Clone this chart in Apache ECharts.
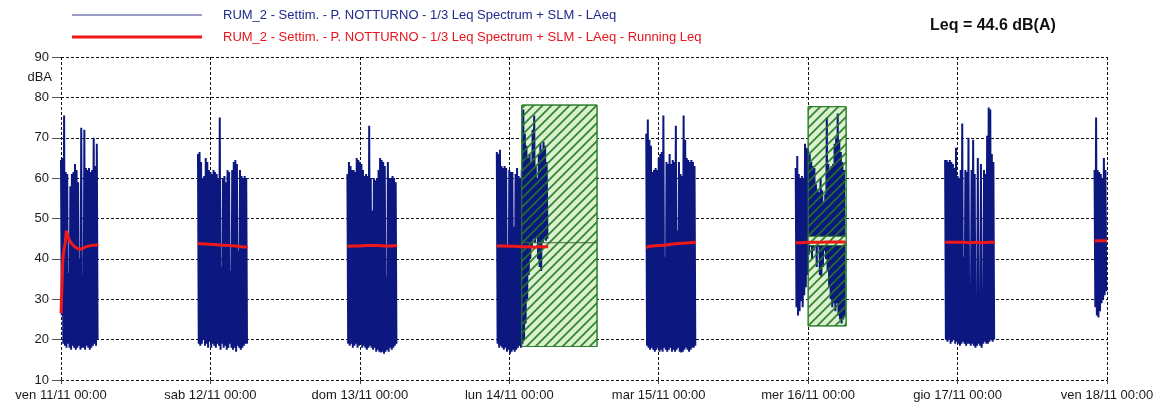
<!DOCTYPE html>
<html>
<head>
<meta charset="utf-8">
<script src="https://cdn.jsdelivr.net/npm/echarts@6/dist/echarts.min.js"></script>
<style>
html,body{margin:0;padding:0;background:#fff;}
#chart{width:1170px;height:410px;}
</style>
</head>
<body>
<div id="chart"></div>
<script>
// ---- tick labels ----
const dayLabels = ['ven 11/11 00:00','sab 12/11 00:00','dom 13/11 00:00','lun 14/11 00:00','mar 15/11 00:00','mer 16/11 00:00','gio 17/11 00:00','ven 18/11 00:00'];
const legendBlue = 'RUM_2 - Settim. - P. NOTTURNO - 1/3 Leq Spectrum + SLM - LAeq';
const legendRed = 'RUM_2 - Settim. - P. NOTTURNO - 1/3 Leq Spectrum + SLM - LAeq - Running Leq';
const leqText = 'Leq = 44.6 dB(A)';

// ---- LAeq: night blocks, start hour (from ven 11/11 00:00), 15-min highs and lows ----
const stepHours = 0.25;
const blockStarts = [0, 22, 46, 70, 94, 118, 142, 166];
const hi1 = [64.5,65,75.5,61.5,61,36.5,58,61,61.5,63.5,62,59,40,72.5,36,72,62.5,62,62.5,61.5,62,70,63,68.5];
const lo1 = [26,19,18.5,18,19,18,17.5,18.5,18,17.5,18,18.5,17.5,18,18,17.5,18.5,18,17.5,18,18.5,19,18.5,20];
const hi2 = [66,66.5,64,60,60.5,65,64,62,61.5,61,62,61.5,61,60,75,38,60,60.5,59,62,61.5,37,62,64,64.5,63.5,42,62,60.5,60,60.5,60];
const lo2 = [19,18.5,19,20,18.5,19,18,19.5,18,19,18.5,18,19,18.5,17.5,19,18,18.5,17.5,18,19,18,17.5,18,17,18.5,18,17.5,18,18.5,19,19];
const hi3 = [61,64,63,62,62,61.5,65,64.5,64,63.5,62,60.5,61,60.5,73,60,52,60,59.5,60,62,65,64.5,64,63,35.5,64,60,60,60.5,60,59];
const lo3 = [19,18.5,19,18,18.5,19,18,18.5,19,18,18.5,18,17.5,18,18.5,18,17.5,18,17,17.5,17,16.8,17,16.5,17,17.5,17,18,17.5,18,18.5,19];
const hi4 = [66.5,66,67,63,62.5,63,62.5,43,62,61.5,61.5,48,61,62.5,60.5,60,62,77,71,68,65,66,64,72,75.5,63,60,66,68.5,67,69,68,64];
const lo4 = [19,18,18.5,18,17.5,18,17,17.5,16.5,17,17.5,17,17.5,18,18.5,18,19,20,24,30,36,40,43,45,44,45.5,40,38,37,44,45,44.5,45];
const hi5 = [71,74.5,69.5,68,61.5,62,62.5,62,65,66,66.5,75.5,40.5,64,63.5,66,63.5,64.5,64,73,47,64,61,60.5,75.5,69.5,65,64.5,64,64.5,64,63];
const lo5 = [18.5,18,17.5,18,17.5,17,17.5,18,17,17.5,17,18,17.5,17,17.5,18,17,17.5,17,17.5,18,17,16.8,17,17.5,18,17.5,17,17.5,18,18,18.5];
const hi6 = [62.5,65.5,61,60,60.5,60,68.5,67.5,67,66,64,63,62.5,58.5,57,56.5,60,57,54,56,75,63.5,62,63,63.5,68.5,70,76,69.5,66.5,64,62];
const lo6 = [28,26,27,29.5,28,31,33,36,41,43,40,42,44,38,43,36,35.5,38,42,40,37,33,30,28,29,27,29,26,25,24,25,26];
const hi7 = [64.5,64.5,64,64.5,64,63.5,62.5,67.5,60.5,60,62,73.5,40.5,62,61.5,70,34,62,69.5,61,27.5,65,32,63.5,33,62,61,70.5,77.5,77,66,64];
const lo7 = [20,19.5,20,19,19.5,20,19,19.5,19,18.5,19,19.5,19,18.5,19,19,18.5,19,18.5,18,18.5,19,18.5,18,19,19.5,19,19,19.5,20,19.5,20];
const hi8 = [62,75,62,61.5,61,60,65,62];
const lo8 = [28,26,25.5,27,29,30,31,32];
const highs = [hi1, hi2, hi3, hi4, hi5, hi6, hi7, hi8];
const lows = [lo1, lo2, lo3, lo4, lo5, lo6, lo7, lo8];

// ---- Running Leq: [hour, dB] per block ----
const run1 = [[0,26.5],[0.15,33],[0.3,40],[0.5,42.5],[0.7,44],[0.85,47],[1.0,46],[1.3,44.8],[1.7,43.8],[2.2,43],[2.7,42.5],[3.2,42.4],[3.7,42.8],[4.2,43.1],[4.8,43.3],[5.4,43.4],[6.0,43.5]];
const run2 = [[22,43.8],[23,43.7],[24,43.6],[25,43.5],[26,43.4],[27,43.3],[28,43.2],[29,43.0],[30,42.9]];
const run3 = [[46,43.1],[47,43.2],[48,43.2],[49,43.3],[50,43.3],[51,43.3],[52,43.2],[53,43.2],[54,43.3]];
const run4 = [[70,43.2],[71,43.2],[72,43.1],[73,43.1],[74,43.0],[75,43.0],[76,42.9],[77,43.0],[78.25,43.0]];
const run5 = [[94,42.8],[94.5,43.1],[95,43.2],[96,43.3],[97,43.4],[98,43.6],[99,43.8],[100,43.9],[101,44.0],[102,44.1]];
const run6 = [[118,44.0],[119,44.0],[120,44.1],[121,44.1],[122,44.1],[123,44.2],[124,44.2],[125,44.2],[126,44.2]];
const run7 = [[142,44.1],[143,44.1],[144,44.1],[145,44.1],[146,44.0],[147,44.1],[148,44.0],[149,44.1],[150,44.1]];
const run8 = [[166,44.5],[167,44.5],[168,44.5]];
const runningBlocks = [run1, run2, run3, run4, run5, run6, run7, run8];

// ---- excluded (hatched) periods: [startHour, endHour, lowDb, highDb] ----
const hatchAreas = [[74, 86.1, 18.3, 78.1], [120, 126.1, 23.4, 77.7]];
const hatchBands = [[120, 126.1, 43.3, 45.6]];
const hatchLeqLines = [[74, 86.1, 44.0]];

// ---- build series data ----
const blueData = [];
blockStarts.forEach((s, k) => {
  if (k > 0) blueData.push([s - 1, '-']);
  highs[k].forEach((h, i) => {
    blueData.push([s + i * stepHours, h]);
    blueData.push([s + i * stepHours + stepHours / 2, lows[k][i]]);
  });
});
const redData = [];
runningBlocks.forEach((blk, k) => {
  if (k > 0) redData.push([blk[0][0] - 1, '-']);
  blk.forEach(p => redData.push(p));
});

function makePattern(withBg) {
  const c = document.createElement('canvas');
  c.width = 9; c.height = 9;
  const ctx = c.getContext('2d');
  if (withBg) { ctx.fillStyle = '#dcf2cf'; ctx.fillRect(0, 0, 9, 9); }
  ctx.strokeStyle = 'rgba(36,120,36,0.9)';
  ctx.lineWidth = 1.8;
  ctx.beginPath();
  ctx.moveTo(-1, 10); ctx.lineTo(10, -1);
  ctx.moveTo(-1, 1); ctx.lineTo(1, -1);
  ctx.moveTo(8, 10); ctx.lineTo(10, 8);
  ctx.stroke();
  return c;
}
const stripePattern = { image: makePattern(false), repeat: 'repeat' };
const bandPattern = { image: makePattern(true), repeat: 'repeat' };

function rectItem(fill, stroke) {
  return function (params, api) {
    const p0 = api.coord([api.value(0), api.value(3)]);
    const p1 = api.coord([api.value(1), api.value(2)]);
    return {
      type: 'rect',
      shape: { x: p0[0], y: p0[1], width: p1[0] - p0[0], height: p1[1] - p0[1] },
      style: { fill: fill, stroke: stroke, lineWidth: 1 }
    };
  };
}

const FONT = "'Liberation Sans', Arial, sans-serif";
const chart = echarts.init(document.getElementById('chart'));
chart.setOption({
  animation: false,
  backgroundColor: '#fff',
  grid: { left: 61, right: 63, top: 57, bottom: 30 },
  xAxis: {
    type: 'value', min: 0, max: 168, interval: 24,
    axisLine: { show: false },
    axisTick: { show: true, length: 4, lineStyle: { color: '#444' } },
    axisLabel: {
      margin: 9, fontFamily: FONT, fontSize: 13, color: '#1a1a1a',
      showMinLabel: true, showMaxLabel: true,
      formatter: v => dayLabels[Math.round(v / 24)]
    },
    splitLine: { show: true, lineStyle: { color: '#111', type: [3, 2], width: 1 } }
  },
  yAxis: {
    type: 'value', min: 10, max: 90, interval: 10,
    axisLine: { show: false },
    axisTick: { show: true, length: 9, lineStyle: { color: '#555' } },
    axisLabel: { margin: 12, fontFamily: FONT, fontSize: 13, color: '#1a1a1a' },
    splitLine: { show: true, lineStyle: { color: '#111', type: [3, 2], width: 1 } }
  },
  graphic: [
    { type: 'line', shape: { x1: 72, y1: 15, x2: 202, y2: 15 }, style: { stroke: '#3a3a98', lineWidth: 1.2 } },
    { type: 'line', shape: { x1: 72, y1: 37, x2: 202, y2: 37 }, style: { stroke: '#f01818', lineWidth: 3 } },
    { type: 'text', x: 223, y: 15, style: { text: legendBlue, fill: '#1f2a8a', font: '13px ' + FONT, textVerticalAlign: 'middle' } },
    { type: 'text', x: 223, y: 37, style: { text: legendRed, fill: '#e8141c', font: '13px ' + FONT, textVerticalAlign: 'middle' } },
    { type: 'text', x: 930, y: 26, style: { text: leqText, fill: '#111', font: 'bold 16px ' + FONT, textVerticalAlign: 'middle' } },
    { type: 'text', x: 52, y: 77, style: { text: 'dBA', fill: '#1a1a1a', font: '13px ' + FONT, textAlign: 'right', textVerticalAlign: 'middle' } }
  ],
  series: [
    { type: 'custom', z: 1, silent: true, data: hatchAreas, encode: { x: [0, 1], y: [2, 3] },
      renderItem: rectItem('#dcf2cf', '#2f7f2f') },
    { type: 'line', z: 2, silent: true, data: blueData, showSymbol: false, connectNulls: false,
      lineStyle: { color: '#0c1780', width: 2 }, itemStyle: { color: '#0c1780' } },
    { type: 'custom', z: 3, silent: true, data: hatchAreas, encode: { x: [0, 1], y: [2, 3] },
      renderItem: rectItem(stripePattern, '#2f7f2f') },
    { type: 'custom', z: 4, silent: true, data: hatchBands, encode: { x: [0, 1], y: [2, 3] },
      renderItem: rectItem(bandPattern, '#2f6f2f') },
    { type: 'custom', z: 4, silent: true, data: hatchLeqLines, encode: { x: [0, 1], y: 2 },
      renderItem: function (params, api) {
        const a = api.coord([api.value(0), api.value(2)]);
        const b = api.coord([api.value(1), api.value(2)]);
        return { type: 'line', shape: { x1: a[0], y1: a[1], x2: b[0], y2: b[1] }, style: { stroke: '#3d6b3d', lineWidth: 1 } };
      } },
    { type: 'line', z: 5, silent: true, data: redData, showSymbol: false, connectNulls: false,
      lineStyle: { color: '#f01818', width: 3 }, itemStyle: { color: '#f01818' } }
  ]
});
</script>
</body>
</html>
